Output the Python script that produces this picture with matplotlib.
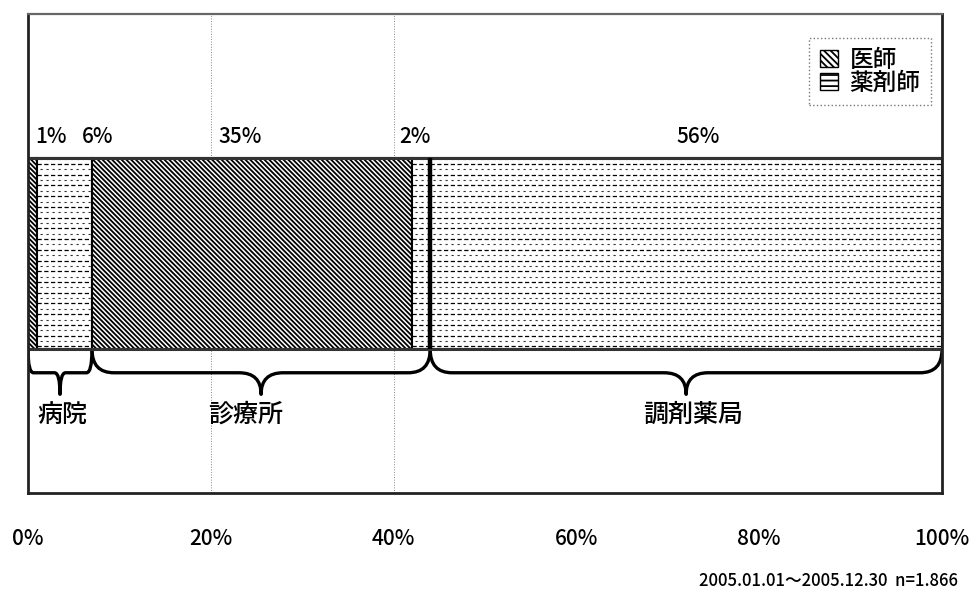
import numpy as np
import matplotlib
matplotlib.use("Agg")
import matplotlib.pyplot as plt
from matplotlib.path import Path
from matplotlib.patches import PathPatch, Patch

plt.rcParams['font.family'] = ['Noto Sans CJK JP', 'DejaVu Sans']
plt.rcParams['font.weight'] = 'medium'
plt.rcParams['hatch.linewidth'] = 1.3

# 施設ごとの内訳 (%)
facilities = ['病院', '診療所', '調剤薬局']
doctor = [1, 35, 0]
pharmacist = [6, 2, 56]
legend_labels = ['医師', '薬剤師']
tick_values = [0, 20, 40, 60, 80, 100]
tick_labels = ['0%', '20%', '40%', '60%', '80%', '100%']
note = '2005.01.01～2005.12.30  n=1.866'

fig = plt.figure(figsize=(9.76, 5.98), dpi=100)
ax = fig.add_axes([0.0287, 0.1756, 0.9365, 0.801])
ax.set_xlim(0, 100)
ax.set_ylim(0, 1)

bar_y, bar_h = 0.5, 0.4

# 区分を左から順に積み上げ
segs = []
for f, d, p in zip(facilities, doctor, pharmacist):
    if d > 0:
        segs.append(('医師', d))
    if p > 0:
        segs.append(('薬剤師', p))

left = 0
patches = []
for kind, v in segs:
    if kind == '医師':
        b = ax.barh(bar_y, v, left=left, height=bar_h, color='white',
                    edgecolor='black', hatch='\\' * 7, linewidth=1.5)
    else:
        b = ax.barh(bar_y, v, left=left, height=bar_h, color='white',
                    edgecolor='black', linewidth=1.5)
        # 薬剤師は点線の横縞
        rect = b.patches[0]
        ys = np.arange(bar_y - bar_h / 2 + 0.006, bar_y + bar_h / 2, 0.0112)
        for i, yy in enumerate(ys):
            if i % 2 == 0:
                ln, = ax.plot([left, left + v], [yy, yy], color='black', lw=0.9,
                              dashes=(3.4, 2.0))
            else:
                ln, = ax.plot([left - 0.3, left + v], [yy, yy], color='#333333', lw=0.8,
                              dashes=(2.0, 3.4), dash_capstyle='butt')
            ln.set_clip_path(rect)
    patches.append((left, v))
    left += v

# 外枠の上下線
ax.plot([0, 100], [bar_y + bar_h / 2] * 2, color='#333333', lw=2.2)
ax.plot([0, 100], [bar_y - bar_h / 2] * 2, color='#333333', lw=2.2)

# 施設の境界 (太線)
bounds = np.cumsum([d + p for d, p in zip(doctor, pharmacist)])
ax.vlines(bounds[1], bar_y - bar_h / 2, bar_y + bar_h / 2, color='black', lw=3.2, zorder=5)

# パーセント表示
nudges = [2.0, 3.6, -1.3, -0.7, 1.3]
for (x0, v), dx in zip(patches, nudges):
    ax.text(x0 + v / 2 + dx, 0.743, f'{v}%', ha='center', va='center', fontsize=15)


def brace(x0, x1, yt, ym, ytip, r):
    xc = (x0 + x1) / 2
    verts = [(x0, yt), (x0, ym), (x0 + r, ym),
             (xc - r, ym), (xc, ym), (xc, ytip),
             (xc, ym), (xc + r, ym),
             (x1 - r, ym), (x1, ym), (x1, yt)]
    codes = [Path.MOVETO, Path.CURVE3, Path.CURVE3,
             Path.LINETO, Path.CURVE3, Path.CURVE3,
             Path.CURVE3, Path.CURVE3,
             Path.LINETO, Path.CURVE3, Path.CURVE3]
    ax.add_patch(PathPatch(Path(verts, codes), fill=False, lw=2.4,
                           edgecolor='black', capstyle='round', joinstyle='round'))


starts = np.concatenate([[0], bounds[:-1]])
label_nudges = [0.3, -1.7, 0.8]
for f, s, e, dx in zip(facilities, starts, bounds, label_nudges):
    r = 2.4 if e - s > 20 else 0.6
    brace(s, e, 0.30, 0.251, 0.206, r)
    ax.text((s + e) / 2 + dx, 0.163, f, ha='center', va='center', fontsize=18)

# 補助線
for g in [20, 40]:
    ax.axvline(g, color='#888888', lw=0.7, ls=':', zorder=0)

ax.set_yticks([])
ax.set_xticks(tick_values)
ax.set_xticklabels(tick_labels, fontsize=15)
ax.tick_params(axis='x', length=0, pad=25)
for side in ['left', 'bottom', 'right']:
    ax.spines[side].set_color('#222222')
    ax.spines[side].set_linewidth(2.0)
ax.spines['top'].set_color('#666666')
ax.spines['top'].set_linewidth(1.6)

handles = [Patch(facecolor='white', edgecolor='black', hatch='\\' * 5),
           Patch(facecolor='white', edgecolor='black', hatch='---')]
leg = ax.legend(handles, legend_labels, loc='upper right', bbox_to_anchor=(0.988, 0.950),
                borderaxespad=0, fontsize=17, handlelength=0.75, handleheight=0.75,
                handletextpad=0.5, labelspacing=0.0, fancybox=False,
                borderpad=0.45)
leg.get_frame().set_edgecolor('#555555')
leg.get_frame().set_linestyle(':')
leg.get_frame().set_linewidth(1.0)

fig.text(0.982, 0.013, note, ha='right', va='bottom', fontsize=12)

fig.savefig('out.png', dpi=100)
